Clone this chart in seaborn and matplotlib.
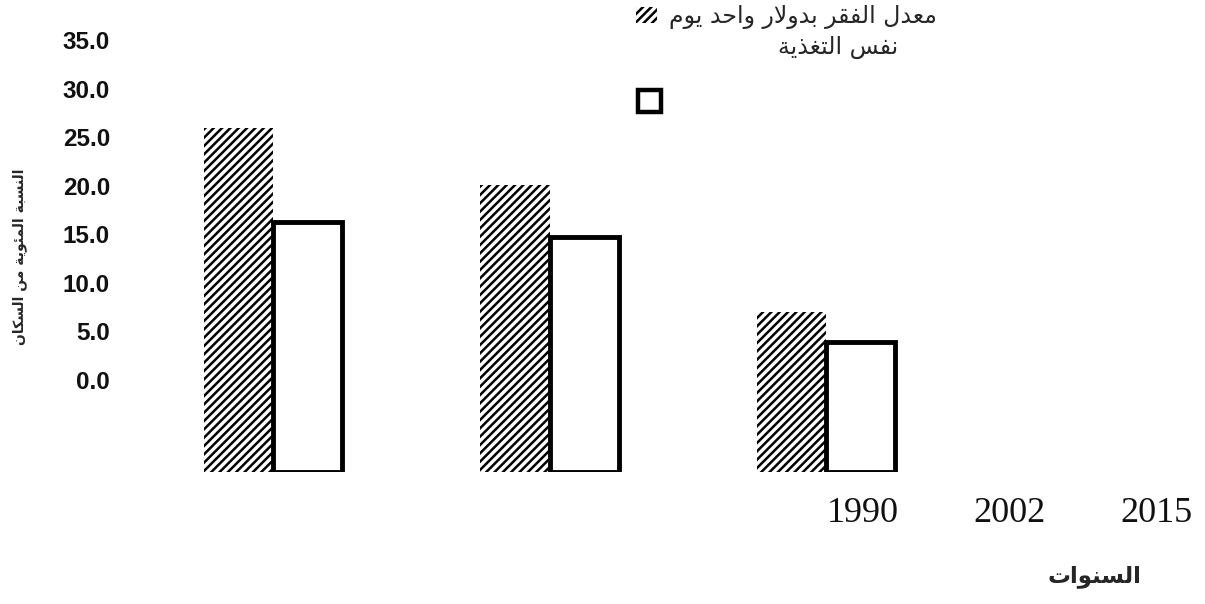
import numpy as np
import pandas as pd
import matplotlib
matplotlib.use('Agg')
import matplotlib.pyplot as plt
import seaborn as sns
from matplotlib.patches import Rectangle

# values (own scale, base at the bottom of the bars)
years = ['1990', '2002', '2015']
poverty = [35.4, 29.5, 16.5]
hunger = [25.7, 24.2, 13.4]
series = ['معدل الفقر بدولار واحد يوم', 'نفس التغذية']
yticks = [0, 5, 10, 15, 20, 25, 30, 35]
ylab = 'النسبة المئوية من السكان'
xlab = 'السنوات'

# matplotlib has no arabic shaping, so pick presentation forms by hand
FORMS = {
    'ئ': ('\uFE89', '\uFE8A', '\uFE8B', '\uFE8C'),
    'ا': ('\uFE8D', '\uFE8E', None, None),
    'ب': ('\uFE8F', '\uFE90', '\uFE91', '\uFE92'),
    'ة': ('\uFE93', '\uFE94', None, None),
    'ت': ('\uFE95', '\uFE96', '\uFE97', '\uFE98'),
    'ح': ('\uFEA1', '\uFEA2', '\uFEA3', '\uFEA4'),
    'د': ('\uFEA9', '\uFEAA', None, None),
    'ذ': ('\uFEAB', '\uFEAC', None, None),
    'ر': ('\uFEAD', '\uFEAE', None, None),
    'س': ('\uFEB1', '\uFEB2', '\uFEB3', '\uFEB4'),
    'ع': ('\uFEC9', '\uFECA', '\uFECB', '\uFECC'),
    'غ': ('\uFECD', '\uFECE', '\uFECF', '\uFED0'),
    'ف': ('\uFED1', '\uFED2', '\uFED3', '\uFED4'),
    'ق': ('\uFED5', '\uFED6', '\uFED7', '\uFED8'),
    'ك': ('\uFED9', '\uFEDA', '\uFEDB', '\uFEDC'),
    'ل': ('\uFEDD', '\uFEDE', '\uFEDF', '\uFEE0'),
    'م': ('\uFEE1', '\uFEE2', '\uFEE3', '\uFEE4'),
    'ن': ('\uFEE5', '\uFEE6', '\uFEE7', '\uFEE8'),
    'و': ('\uFEED', '\uFEEE', None, None),
    'ي': ('\uFEF1', '\uFEF2', '\uFEF3', '\uFEF4'),
}


def joins_next(c):
    return c in FORMS and FORMS[c][2] is not None


def ar(text):
    out = []
    i = 0
    while i < len(text):
        c = text[i]
        if c not in FORMS:
            out.append(c)
            i += 1
            continue
        prev_j = i > 0 and joins_next(text[i - 1])
        if c == 'ل' and i + 1 < len(text) and text[i + 1] == 'ا':
            out.append('\uFEFC' if prev_j else '\uFEFB')
            i += 2
            continue
        nxt = text[i + 1] if i + 1 < len(text) else ''
        next_j = joins_next(c) and nxt in FORMS
        iso, fin, ini, med = FORMS[c]
        if prev_j and next_j:
            out.append(med)
        elif prev_j:
            out.append(fin)
        elif next_j:
            out.append(ini)
        else:
            out.append(iso)
        i += 1
    return ''.join(reversed(out))


sns.set_theme(style='white')
plt.rcParams['font.family'] = ['DejaVu Sans']
plt.rcParams['hatch.linewidth'] = 1.8

df = pd.DataFrame({
    'year': years * 2,
    'series': [series[0]] * 3 + [series[1]] * 3,
    'value': poverty + hunger,
})

W, H = 1205, 604
fig = plt.figure(figsize=(W / 100, H / 100), dpi=100)


def px_axes(x0, y0, x1, y1):
    # pixel box (top-left origin) -> axes
    return fig.add_axes([x0 / W, 1 - y1 / H, (x1 - x0) / W, (y1 - y0) / H])


# bars
ax = px_axes(135, 122, 964, 472)
sns.barplot(data=df, x='year', y='value', hue='series', hue_order=series,
            palette=['white', 'white'], width=0.5, gap=0, legend=False, ax=ax)
for bar in ax.containers[0]:
    bar.set_hatch('////')
    bar.set_edgecolor('black')
    bar.set_linewidth(0)
for bar in ax.containers[1]:
    bar.set_edgecolor('black')
    bar.set_linewidth(3.5)
    bar.set_zorder(3)
ax.set_xlim(-0.5, 2.5)
ax.set_ylim(0, 36)
ax.set_axis_off()

# y tick labels, on their own scale
ay = px_axes(110, 40, 111, 380)
ay.set_ylim(0, 35)
ay.set_yticks(yticks)
ay.set_yticklabels([f'{v:.1f}' for v in yticks], fontsize=17.5,
                   fontweight='bold', family='Liberation Sans', color='#111111')
ay.tick_params(axis='y', length=0, pad=0)
ay.set_xticks([])
for s in ay.spines.values():
    s.set_visible(False)
ay.patch.set_alpha(0)

# year labels
axx = px_axes(789, 496, 1230, 497)
axx.set_xlim(-0.5, 2.5)
axx.set_xticks(range(len(years)))
axx.set_xticklabels(years, fontsize=26, family='Liberation Serif', color='#111111')
axx.tick_params(axis='x', length=0, pad=0)
axx.set_yticks([])
for s in axx.spines.values():
    s.set_visible(False)
axx.patch.set_alpha(0)

fig.text(1094 / W, 1 - 577 / H, ar(xlab), fontsize=16.5, fontweight='bold',
         ha='center', va='center')
fig.text(20 / W, 1 - 257 / H, ar(ylab), fontsize=10, fontweight='bold',
         rotation=90, ha='center', va='center')

# legend, laid out as in the source
fig.add_artist(Rectangle((636 / W, 1 - 23 / H), 21 / W, 16 / H, transform=fig.transFigure,
                         facecolor='white', edgecolor='black', linewidth=0, hatch='////'))
fig.text(937 / W, 1 - 17 / H, ar(series[0]), fontsize=17, ha='right', va='center')
fig.text(838 / W, 1 - 47 / H, ar(series[1]), fontsize=17, ha='center', va='center')
fig.add_artist(Rectangle((638 / W, 1 - 112 / H), 23 / W, 22 / H, transform=fig.transFigure,
                         facecolor='white', edgecolor='black', linewidth=3.2))

fig.savefig('out.png', dpi=100)
